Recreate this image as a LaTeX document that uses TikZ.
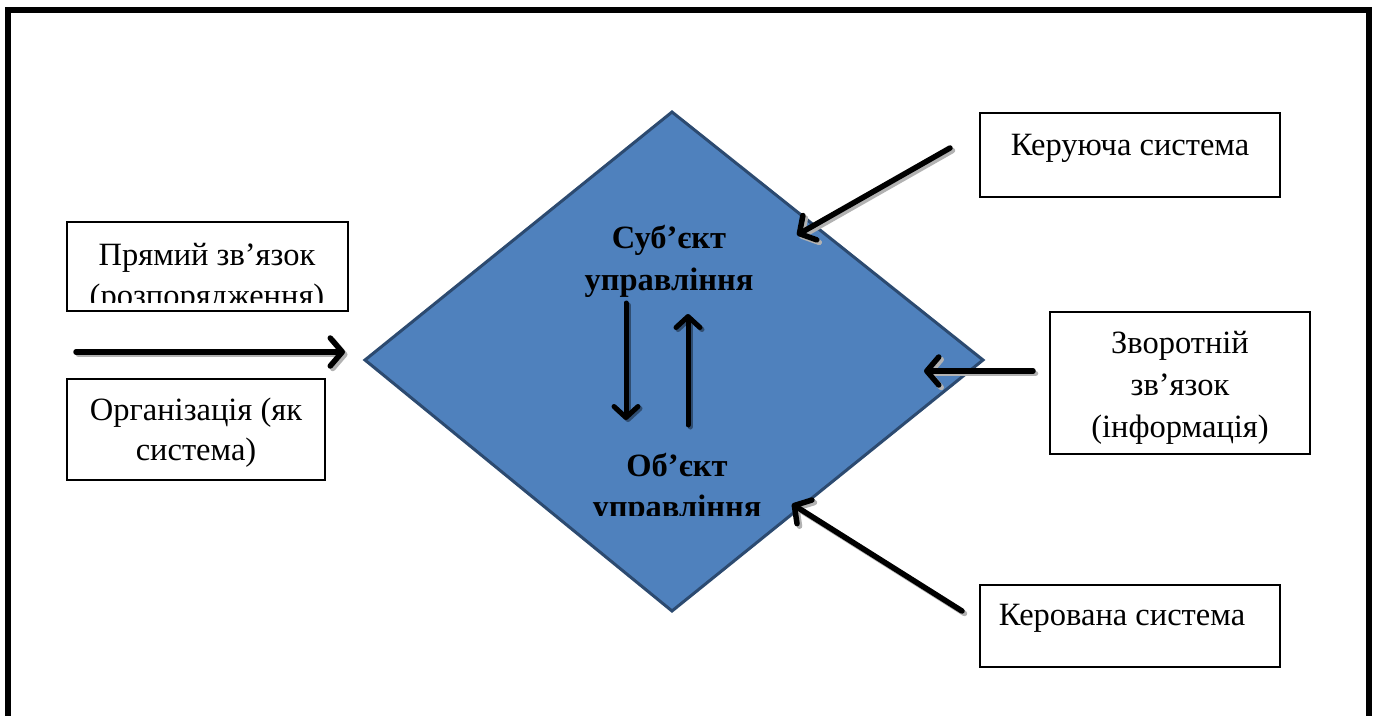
\documentclass[tikz,border=0pt]{standalone}
\usepackage{fontspec}
\setmainfont{Liberation Serif}
\usetikzlibrary{arrows.meta}
\definecolor{dfill}{RGB}{79,129,189}
\definecolor{dline}{RGB}{44,74,112}
\begin{document}
\begin{tikzpicture}[x=1pt,y=-1pt,
  box/.style={draw, line width=1.2pt, inner sep=0pt},
  txt/.style={font=\fontsize{32.5}{40}\selectfont, inner sep=0pt, anchor=base},
  btxt/.style={font=\fontsize{32.5}{40}\selectfont\bfseries, inner sep=0pt, anchor=base},
  arr/.style={line width=5.5pt, line cap=round, -{Straight Barb[length=12pt,width=28pt,round,line width=5.5pt]}},
  iarr/.style={line width=5pt, line cap=round, -{Straight Barb[length=11pt,width=24pt,round,line width=5pt]}},
  sh/.style={draw=gray!60, transform canvas={shift={(2.5pt,-2.5pt)}}},
  ish/.style={draw=dfill!60!black, transform canvas={shift={(2pt,-2pt)}}}
]
\useasboundingbox (0,0) rectangle (1376,715);
\fill[white] (0,0) rectangle (1376,715);
% outer frame
\draw[line width=6pt] (8,716) -- (8,10) -- (1369,10) -- (1369,716);

% diamond
\coordinate (dL) at (365,360);
\coordinate (dT) at (672,112);
\coordinate (dR) at (983,360);
\coordinate (dB) at (672,611);
\draw[fill=dfill, draw=dline, line width=3pt, line join=miter] (dL) -- (dT) -- (dR) -- (dB) -- cycle;

% boxes
\node[box, minimum width=281pt, minimum height=89pt] (b1) at (207.5,266.5) {};
\node[box, minimum width=258pt, minimum height=101pt] (b2) at (196,429.5) {};
\node[box, minimum width=300pt, minimum height=84pt] (b3) at (1130,155) {};
\node[box, minimum width=260pt, minimum height=142pt] (b4) at (1180,383) {};
\node[box, minimum width=300pt, minimum height=82pt] (b5) at (1130,626) {};

% texts
\begin{scope}
\clip (67,222) rectangle (348,302);
\node[txt] (t1a) at (207,265) {Прямий зв’язок};
\node[txt] (t1b) at (207,306) {(розпорядження)};
\end{scope}
\node[txt] (t2a) at (196,420) {Організація (як};
\node[txt] (t2b) at (196,460) {система)};
\node[txt] (t3) at (1130,155) {Керуюча система};
\node[txt] (t4a) at (1180,353) {Зворотній};
\node[txt] (t4b) at (1180,395) {зв’язок};
\node[txt] (t4c) at (1180,437) {(інформація)};
\node[txt] (t5) at (1122,625) {Керована система};

\node[btxt] (s1) at (669,248) {Суб’єкт};
\node[btxt] (s2) at (669,290) {управління};
\begin{scope}
\clip (560,440) rectangle (790,515);
\node[btxt] (o1) at (677,476) {Об’єкт};
\node[btxt] (o2) at (677,517) {управління};
\end{scope}

% arrow endpoints
\coordinate (a1s) at (76,352);   \coordinate (a1e) at (345,352);
\coordinate (a2s) at (950,148);  \coordinate (a2e) at (797,235);
\coordinate (a3s) at (1033,371); \coordinate (a3e) at (924,371);
\coordinate (a4s) at (962,611);  \coordinate (a4e) at (792,504);
\coordinate (a5s) at (626,303);  \coordinate (a5e) at (626,420);
\coordinate (a6s) at (688,425);  \coordinate (a6e) at (688,314);

% shadows
\draw[arr, sh] (a1s) -- (a1e);
\draw[arr, sh] (a2s) -- (a2e);
\draw[arr, sh] (a3s) -- (a3e);
\draw[arr, sh] (a4s) -- (a4e);
\draw[iarr, ish] (a5s) -- (a5e);
\draw[iarr, ish] (a6s) -- (a6e);
% arrows
\draw[arr] (a1s) -- (a1e);
\draw[arr] (a2s) -- (a2e);
\draw[arr] (a3s) -- (a3e);
\draw[arr] (a4s) -- (a4e);
\draw[iarr] (a5s) -- (a5e);
\draw[iarr] (a6s) -- (a6e);
\end{tikzpicture}
\end{document}
